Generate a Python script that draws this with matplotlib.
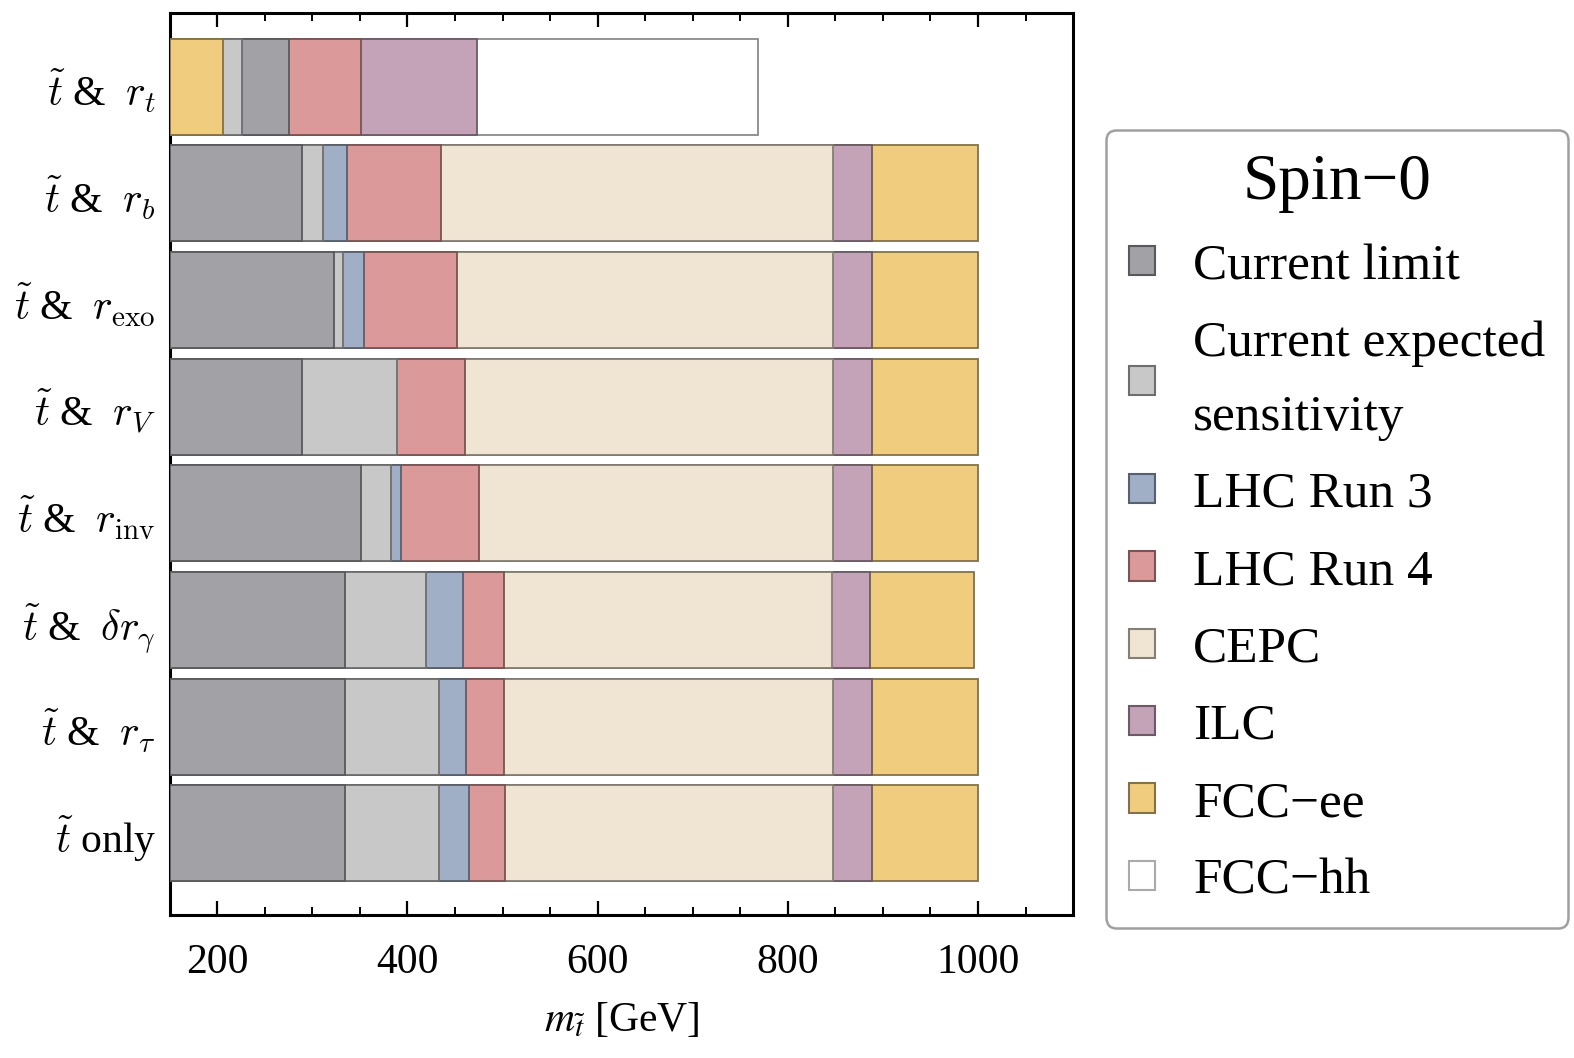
import numpy as np
import matplotlib
matplotlib.use("Agg")
from matplotlib import pyplot as plt
from matplotlib.patches import Patch
from matplotlib.ticker import MultipleLocator
import matplotlib.colors as mcolors

# rows from top to bottom
row_labels = [r'$\tilde{t}$ &  $r_t$', r'$\tilde{t}$ &  $r_b$', r'$\tilde{t}$ &  $r_\mathrm{exo}$',
              r'$\tilde{t}$ &  $r_V$', r'$\tilde{t}$ &  $r_\mathrm{inv}$', r'$\tilde{t}$ &  $\delta r_\gamma$',
              r'$\tilde{t}$ &  $r_\tau$', r'$\tilde{t}$ only']

# reach in stop mass [GeV] per experiment (nan = not visible)
nan = np.nan
current_limit = [275, 289, 323, 289, 351, 334, 334, 334]
current_expected = [226, 311, 332, 389, 383, 419, 433, 433]
lhc_run3 = [nan, 336, 354, nan, 393, 458, 462, 465]
lhc_run4 = [351, 435, 452, 461, 475, 502, 502, 503]
cepc = [nan, 848, 848, 848, 848, 846, 848, 848]
ilc = [473, 888, 888, 888, 888, 886, 888, 888]
fcc_ee = [206, 1000, 1000, 1000, 1000, 996, 1000, 1000]
fcc_hh = [769, nan, nan, nan, nan, nan, nan, nan]

names = ['Current limit', 'Current expected\nsensitivity', 'LHC Run 3', 'LHC Run 4',
         'CEPC', 'ILC', 'FCC\u2212ee', 'FCC\u2212hh']
colors = ['#a2a1a6', '#c8c8c8', '#a0afc6', '#db9999', '#f0e5d2', '#c4a3b9', '#f0cd7e', '#ffffff']
series = [current_limit, current_expected, lhc_run3, lhc_run4, cepc, ilc, fcc_ee, fcc_hh]

XMIN, XMAX = 150, 1100


def edge(c, f=0.55):
    r, g, b = mcolors.to_rgb(c)
    return (r * f, g * f, b * f)


plt.rcParams['font.family'] = ['Liberation Serif', 'DejaVu Serif']
plt.rcParams['mathtext.fontset'] = 'cm'

fig = plt.figure(figsize=(15.74, 10.58), dpi=100)
ax = fig.add_axes([0.1078, 0.1347, 0.5740, 0.8530])

nrows = len(row_labels)
for i in range(nrows):
    vals = [(s[i], k) for k, s in enumerate(series) if not np.isnan(s[i])]
    vals.sort(key=lambda t: -t[0])
    for z, (v, k) in enumerate(vals):
        ax.barh(i, v - XMIN, left=XMIN, height=0.9, color=colors[k],
                edgecolor=edge(colors[k]) if k != 7 else '#8a8a8a', linewidth=1.3, zorder=2 + z)

ax.set_xlim(XMIN, XMAX)
ax.set_ylim(nrows - 1 + 0.77, -0.69)
ax.set_yticks(range(nrows))
ax.set_yticklabels(row_labels, fontsize=30)
ax.xaxis.set_major_locator(MultipleLocator(200))
ax.xaxis.set_minor_locator(MultipleLocator(50))
ax.tick_params(axis='x', which='both', direction='in', top=True, bottom=True, labelsize=30, pad=20)
ax.tick_params(axis='x', which='major', length=10, width=1.6)
ax.tick_params(axis='x', which='minor', length=6, width=1.4)
ax.tick_params(axis='y', which='both', direction='in', length=4, width=2, pad=10)
for sp in ax.spines.values():
    sp.set_linewidth(2.2)

ax.set_xlabel(r'$m_{\tilde{t}}$ [GeV]', fontsize=30, labelpad=14, math_fontfamily='stix')

handles = [Patch(facecolor=c, edgecolor=edge(c) if c != '#ffffff' else '#aaaaaa', linewidth=1.5)
           for c in colors]
leg = fig.legend(handles, names, loc='upper left', bbox_to_anchor=(0.7025, 0.877),
                 fontsize=37, title='Spin\u22120', title_fontsize=47, frameon=True, fancybox=True,
                 handlelength=0.5, handleheight=0.5, handletextpad=0.75, labelspacing=0.6,
                 borderpad=0.45, borderaxespad=0)
for t in leg.get_texts():
    t.set_linespacing(1.75)
leg.get_frame().set_edgecolor('#888888')
leg.get_frame().set_linewidth(1.8)

fig.savefig('out.png', dpi=100)
